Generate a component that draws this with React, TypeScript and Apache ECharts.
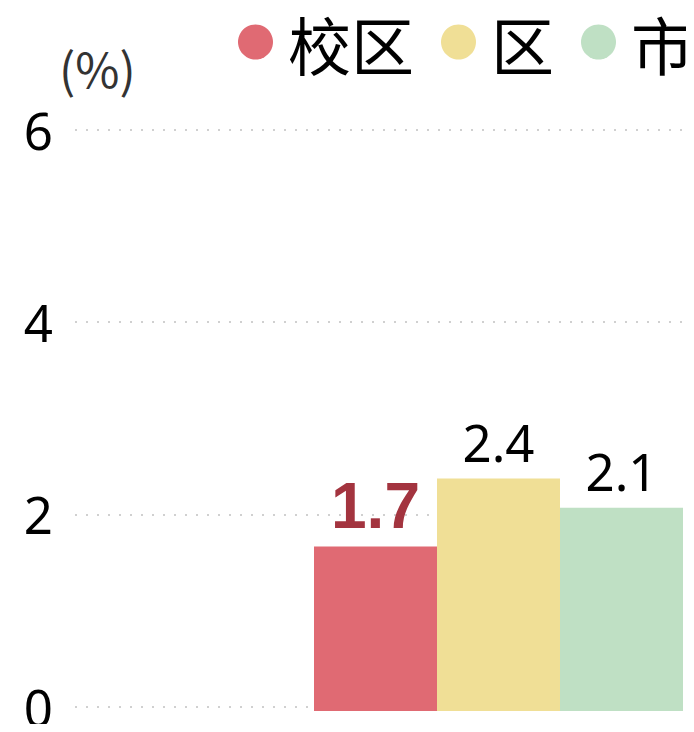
import React, { useEffect, useRef } from "react";
import * as echarts from "echarts";

const seriesNames = ["校区", "区", "市"];
const seriesValues = [1.7, 2.4, 2.1];
const seriesColors = ["#e06a73", "#f0df96", "#bfe0c4"];
const categories = [""];
const yTicks = { min: 0, max: 6, interval: 2 };
const unitLabel = "(%)";

export default function App() {
  const ref = useRef<HTMLDivElement>(null);
  useEffect(() => {
    const chart = echarts.init(ref.current!, null, { renderer: "svg" });
    const series = seriesNames.map((name, i) => ({
      name,
      type: "bar",
      xAxisIndex: 1,
      yAxisIndex: 1,
      barGap: 0,
      barCategoryGap: 0,
      data: [seriesValues[i]],
      itemStyle: { color: seriesColors[i] },
      label: {
        show: true,
        position: "top",
        distance: i === 0 ? 8 : 11,
        fontSize: i === 0 ? 64 : 51,
        fontWeight: i === 0 ? 900 : "normal",
        fontFamily: i === 0 ? "Liberation Sans" : "Noto Sans",
        color: i === 0 ? "#a3343f" : "#000",
        formatter: (p: any) => p.value.toFixed(1),
      },
    }));
    chart.setOption({
      animation: false,
      textStyle: { fontFamily: "Noto Sans" },
      legend: {
        data: seriesNames,
        left: 238,
        top: 9,
        width: 520,
        padding: 0,
        icon: "circle",
        itemWidth: 35,
        itemHeight: 35,
        itemGap: 27,
        textStyle: {
          fontSize: 63,
          lineHeight: 66,
          color: "#000",
          fontFamily: "Noto Sans CJK SC",
          padding: [0, 0, 0, 10],
        },
      },
      grid: [
        { left: 75, right: 2, top: 130, bottom: 21 },
        { left: 314, right: 11, top: 130, bottom: 21 },
      ],
      xAxis: [
        { type: "category", gridIndex: 0, data: categories, show: false },
        { type: "category", gridIndex: 1, data: categories, show: false },
      ],
      yAxis: [
        {
          type: "value",
          gridIndex: 0,
          min: yTicks.min,
          max: yTicks.max,
          interval: yTicks.interval,
          name: unitLabel,
          nameLocation: "end",
          nameGap: 39,
          nameTextStyle: {
            fontSize: 48,
            lineHeight: 48,
            color: "#333",
            align: "left",
            padding: [0, 0, 0, -16],
            fontFamily: "Noto Sans CJK SC",
          },
          axisLine: { show: false },
          axisTick: { show: false },
          axisLabel: { fontSize: 51, lineHeight: 40, color: "#000", margin: 22, fontFamily: "Noto Sans" },
          splitLine: { show: true, lineStyle: { type: [2, 9], width: 2, color: "#d0d0d0" } },
        },
        {
          type: "value",
          gridIndex: 1,
          min: yTicks.min,
          max: yTicks.max,
          interval: yTicks.interval,
          show: false,
          splitLine: { show: false },
        },
      ],
      series,
    });
    return () => chart.dispose();
  }, []);
  return <div ref={ref} style={{ width: 694, height: 732, margin: -8 }} />;
}
